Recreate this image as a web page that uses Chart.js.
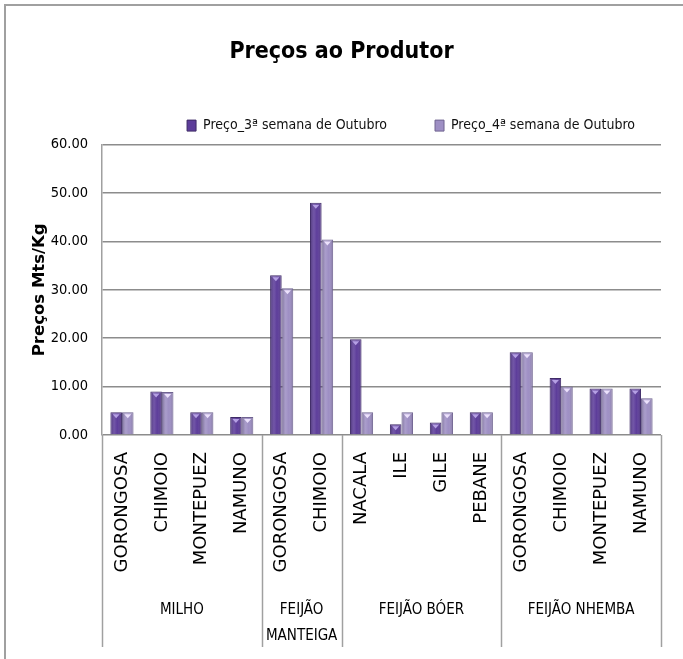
<!DOCTYPE html>
<html lang="pt">
<head>
    <meta charset="UTF-8">
    <title>Preços ao Produtor</title>
    <style>
        body { margin: 0; background: #fff; overflow: hidden; }
        canvas { display: block; }
    </style>
    <script src="https://cdn.jsdelivr.net/npm/chart.js@4.4.1/dist/chart.umd.min.js"></script>
</head>
<body>
<canvas id="chart" width="683" height="659"></canvas>
<script>
    const markets = ["GORONGOSA", "CHIMOIO", "MONTEPUEZ", "NAMUNO",
                     "GORONGOSA", "CHIMOIO",
                     "NACALA", "ILE", "GILE", "PEBANE",
                     "GORONGOSA", "CHIMOIO", "MONTEPUEZ", "NAMUNO"];
    const groupNames = [["MILHO"], ["FEIJÃO", "MANTEIGA"], ["FEIJÃO BÓER"], ["FEIJÃO NHEMBA"]];
    const groupSizes = [4, 2, 4, 4];
    const week3 = [4.7, 9.0, 4.7, 3.7, 33.0, 48.0, 19.8, 2.2, 2.6, 4.7, 17.1, 11.8, 9.6, 9.6];
    const week4 = [4.7, 8.9, 4.7, 3.7, 30.3, 40.4, 4.7, 4.7, 4.7, 4.7, 17.1, 10.0, 9.6, 7.6];
    const seriesNames = ["Preço_3ª semana de Outubro", "Preço_4ª semana de Outubro"];
    const yTicks = [0, 10, 20, 30, 40, 50, 60];

    const narrow = "'Liberation Sans Narrow', 'DejaVu Sans Condensed', sans-serif";

    // grey frame of the chart object (top and left edges only are in view)
    const frame = {
        id: 'frame',
        beforeDraw(chart) {
            const ctx = chart.ctx;
            ctx.save();
            ctx.strokeStyle = '#a0a0a0';
            ctx.lineWidth = 2;
            ctx.beginPath();
            ctx.moveTo(5, chart.height);
            ctx.lineTo(5, 5);
            ctx.lineTo(chart.width, 5);
            ctx.stroke();
            ctx.restore();
        }
    };

    // 3D-ish shading and the little cap triangle on every bar
    const barShade = {
        id: 'barShade',
        afterDatasetsDraw(chart) {
            const ctx = chart.ctx;
            chart.data.datasets.forEach((ds, di) => {
                chart.getDatasetMeta(di).data.forEach(bar => {
                    const l = bar.x - bar.width / 2, r = bar.x + bar.width / 2;
                    const g = ctx.createLinearGradient(l, 0, r, 0);
                    g.addColorStop(0, 'rgba(0,0,0,0.28)');
                    g.addColorStop(0.35, 'rgba(255,255,255,0.12)');
                    g.addColorStop(0.6, 'rgba(255,255,255,0.0)');
                    g.addColorStop(1, 'rgba(0,0,0,0.22)');
                    ctx.save();
                    ctx.fillStyle = g;
                    ctx.fillRect(l + 1, bar.y + 1, bar.width - 2, bar.base - bar.y - 1);
                    if (bar.base - bar.y > 6) {
                        ctx.fillStyle = di === 0 ? 'rgba(190,170,235,0.9)' : 'rgba(240,230,255,0.95)';
                        ctx.beginPath();
                        ctx.moveTo(bar.x - 3.5, bar.y + 2);
                        ctx.lineTo(bar.x + 3.5, bar.y + 2);
                        ctx.lineTo(bar.x, bar.y + 6);
                        ctx.closePath();
                        ctx.fill();
                    }
                    ctx.restore();
                });
            });
        }
    };

    // group dividers and group names under the market labels
    const groups = {
        id: 'groups',
        afterDraw(chart) {
            const ctx = chart.ctx, x = chart.scales.x, area = chart.chartArea;
            const edge = i => i <= 0 ? area.left : i >= markets.length ? area.right
                : (x.getPixelForValue(i - 1) + x.getPixelForValue(i)) / 2;
            ctx.save();
            ctx.strokeStyle = '#a0a0a0';
            ctx.lineWidth = 1.5;
            let start = 0;
            const bounds = [0];
            groupSizes.forEach(n => { start += n; bounds.push(start); });
            bounds.forEach(b => {
                const px = Math.round(edge(b)) + 0.5;
                ctx.beginPath();
                ctx.moveTo(px, area.bottom);
                ctx.lineTo(px, 647);
                ctx.stroke();
            });
            ctx.fillStyle = '#000';
            ctx.font = "15px " + narrow;
            ctx.textAlign = 'center';
            ctx.textBaseline = 'middle';
            groupNames.forEach((lines, gi) => {
                const cx = (edge(bounds[gi]) + edge(bounds[gi + 1])) / 2;
                lines.forEach((t, li) => ctx.fillText(t, cx, 610 + li * 26));
            });
            ctx.restore();
        }
    };

    // empty axes used only to reserve space
    const spacer = (pos, size) => ({
        type: pos === 'top' ? 'category' : 'linear',
        position: pos,
        display: true,
        grid: { display: false },
        border: { display: false },
        ticks: { display: false },
        afterFit: s => { if (pos === 'top') s.height = size; else s.width = size; }
    });

    new Chart(document.getElementById('chart'), {
        type: 'bar',
        data: {
            labels: markets,
            datasets: [
                { label: seriesNames[0], data: week3, xAxisID: 'x', yAxisID: 'y',
                  backgroundColor: '#5d3d9a', borderColor: '#3e2a66', borderWidth: 1 },
                { label: seriesNames[1], data: week4, xAxisID: 'x', yAxisID: 'y',
                  backgroundColor: '#9e8fc4', borderColor: '#6f6390', borderWidth: 1 }
            ]
        },
        options: {
            responsive: false,
            animation: false,
            layout: { padding: { top: 2, left: 0, right: 0, bottom: 0 } },
            datasets: { bar: { categoryPercentage: 0.58, barPercentage: 1.0 } },
            plugins: {
                tooltip: { enabled: false },
                title: {
                    display: true,
                    text: 'Preços ao Produtor',
                    color: '#000',
                    font: { family: narrow, size: 23, weight: 'bold' },
                    padding: { top: 36, bottom: 5 }
                },
                legend: {
                    position: 'top',
                    align: 'end',
                    labels: {
                        color: '#111',
                        font: { family: narrow, size: 14 },
                        boxWidth: 9,
                        boxHeight: 11,
                        padding: 48
                    }
                }
            },
            scales: {
                x: {
                    afterFit: s => { s.height = 224; },
                    grid: { display: false },
                    border: { display: false },
                    ticks: {
                        autoSkip: false,
                        minRotation: 90,
                        maxRotation: 90,
                        padding: 9,
                        color: '#000',
                        font: { family: "'DejaVu Sans', sans-serif", size: 18 }
                    }
                },
                xTop: spacer('top', 2),
                yRight: spacer('right', 22),
                y: {
                    min: 0,
                    max: 60,
                    afterFit: s => { s.width = 102; },
                    afterBuildTicks: s => { s.ticks = yTicks.map(v => ({ value: v })); },
                    grid: { color: '#8c8c8c', lineWidth: 1.5, drawTicks: false },
                    border: { display: true, color: '#a0a0a0', width: 1.5 },
                    ticks: {
                        padding: 14,
                        color: '#000',
                        font: { family: narrow, size: 14.5 },
                        callback: v => Number(v).toFixed(2)
                    },
                    title: {
                        display: true,
                        text: 'Preços Mts/Kg',
                        color: '#000',
                        font: { family: "'DejaVu Sans', sans-serif", size: 16.5, weight: 'bold' },
                        padding: { top: 30, bottom: 0 }
                    }
                }
            }
        },
        plugins: [frame, barShade, groups]
    });
</script>
</body>
</html>
